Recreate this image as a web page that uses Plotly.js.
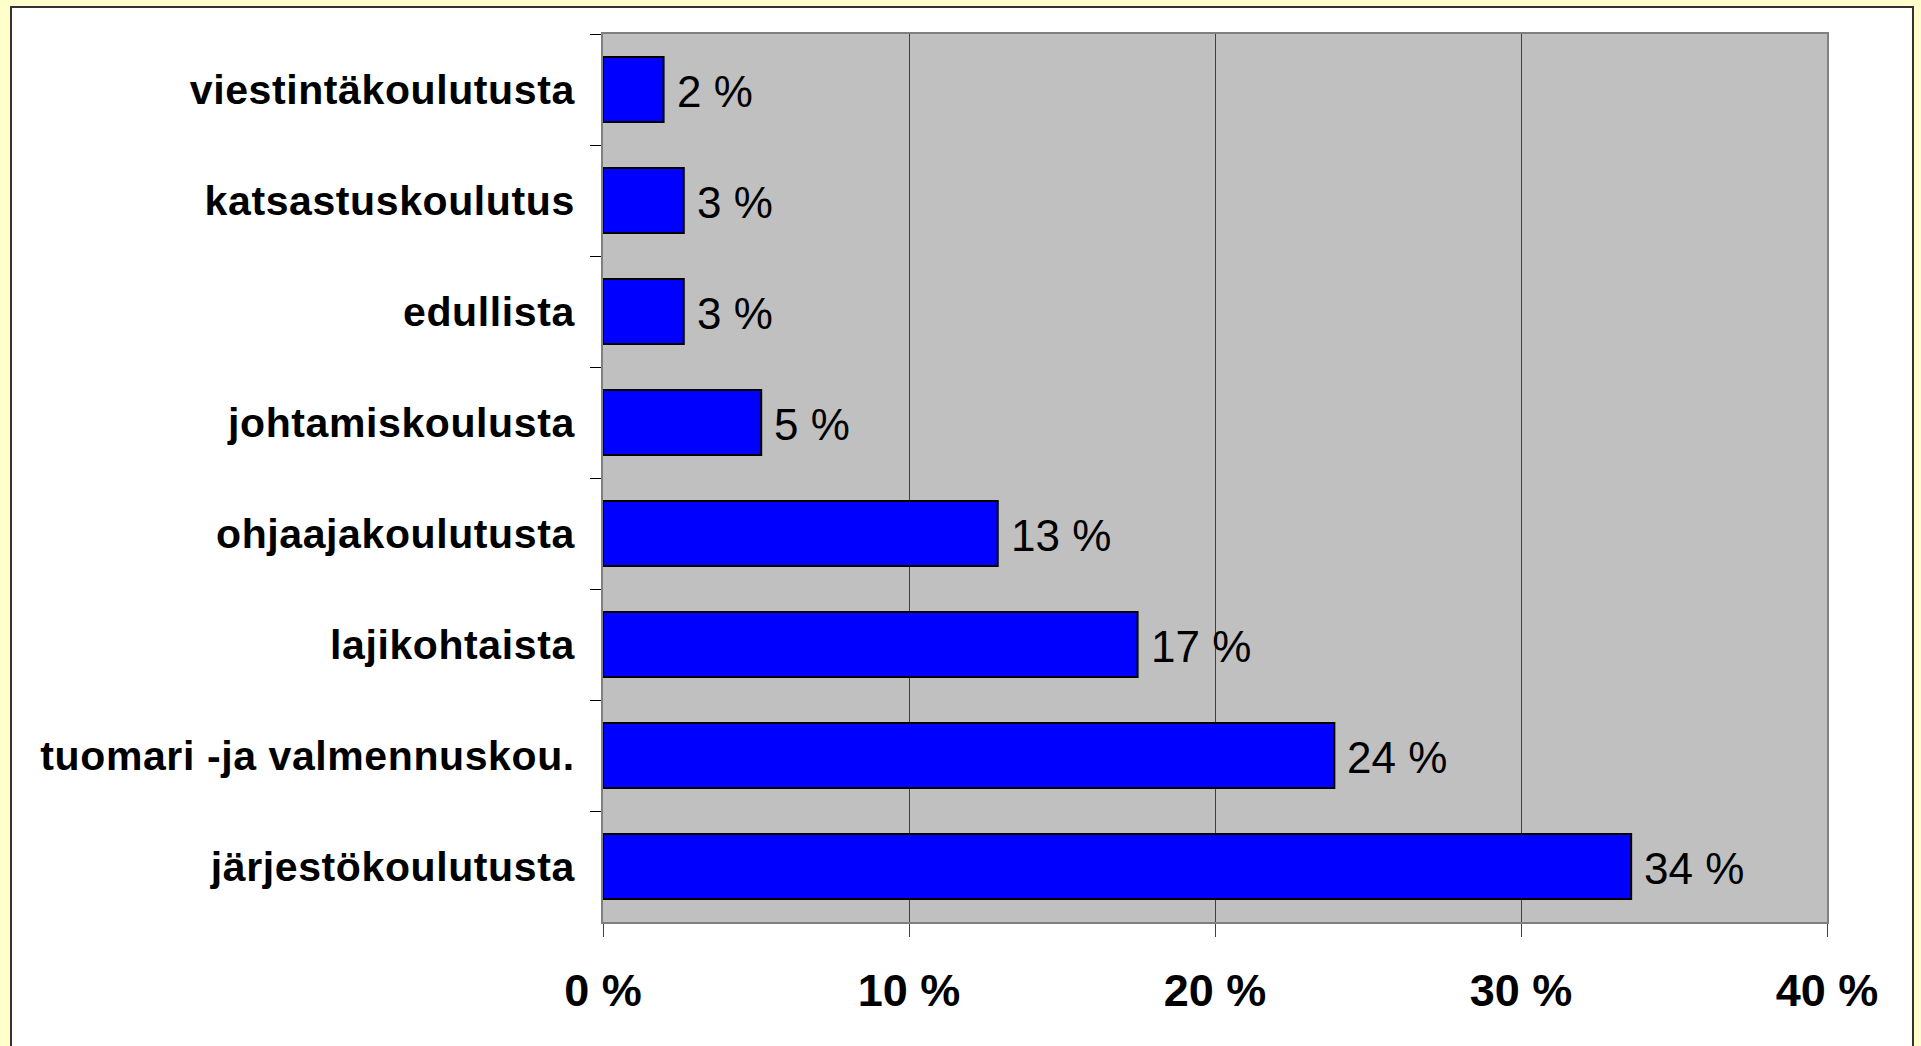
<!DOCTYPE html>
<html>
<head>
<meta charset="utf-8">
<script src="https://cdn.plot.ly/plotly-3.0.1.min.js"></script>
<style>
  html, body { margin: 0; padding: 0; background: #FFFFCC; width: 1921px; height: 1046px; overflow: hidden; }
  #panel { position: absolute; left: 10px; top: 6px; width: 1904px; height: 1100px; background: #ffffff; border: 2px solid #333333; box-sizing: border-box; }
  #chart { position: absolute; left: 0; top: 0; width: 1921px; height: 1046px; }
  #chart .ytick text { letter-spacing: 0.6px; }
</style>
</head>
<body>
<div id="panel"></div>
<div id="chart"></div>
<script>
// Categories listed top to bottom
const categories = [
  "viestintäkoulutusta",
  "katsastuskoulutus",
  "edullista",
  "johtamiskoulusta",
  "ohjaajakoulutusta",
  "lajikohtaista",
  "tuomari -ja valmennuskou.",
  "järjestökoulutusta"
];
const values = [1.98, 2.64, 2.64, 5.17, 12.9, 17.47, 23.9, 33.6];
const valueLabels = ["2 %", "3 %", "3 %", "5 %", "13 %", "17 %", "24 %", "34 %"];
const xTickVals = [0, 10, 20, 30, 40];
const xTickText = ["0 %", "10 %", "20 %", "30 %", "40 %"];

const FONT = "Liberation Sans, Arial, Helvetica, sans-serif";

const trace = {
  type: "bar",
  orientation: "h",
  x: values,
  y: categories,
  marker: { color: "#0000FF", line: { color: "#000000", width: 2 } },
  hoverinfo: "none"
};

const annotations = categories.map((c, i) => ({
  x: values[i], y: c, xref: "x", yref: "y",
  text: valueLabels[i], showarrow: false,
  xanchor: "left", yanchor: "middle", xshift: 11, yshift: -2,
  font: { family: FONT, size: 44, color: "#000000" }
}));

const layout = {
  width: 1921, height: 1046,
  margin: { l: 603, r: 94, t: 34, b: 124 },
  paper_bgcolor: "rgba(0,0,0,0)",
  plot_bgcolor: "#C0C0C0",
  showlegend: false,
  bargap: 0.415,
  xaxis: {
    range: [0, 40],
    tickvals: xTickVals, ticktext: xTickText,
    showgrid: true, gridcolor: "#404040", gridwidth: 1,
    zeroline: false,
    showline: true, linecolor: "#808080", linewidth: 2, mirror: true,
    ticks: "outside", ticklen: 13, tickcolor: "#404040", tickwidth: 1,
    ticklabelstandoff: 15,
    tickfont: { family: FONT, size: 45, color: "#000000", weight: "bold" },
    fixedrange: true
  },
  yaxis: {
    type: "category",
    autorange: "reversed",
    tickson: "boundaries",
    showgrid: false, zeroline: false,
    showline: true, linecolor: "#808080", linewidth: 2, mirror: true,
    ticks: "outside", ticklen: 11, tickcolor: "#000000", tickwidth: 1,
    ticklabelstandoff: 18,
    tickfont: { family: FONT, size: 41, color: "#000000", weight: "bold" },
    fixedrange: true
  },
  annotations: annotations
};

Plotly.newPlot("chart", [trace], layout, { displayModeBar: false, staticPlot: true });
</script>
</body>
</html>
